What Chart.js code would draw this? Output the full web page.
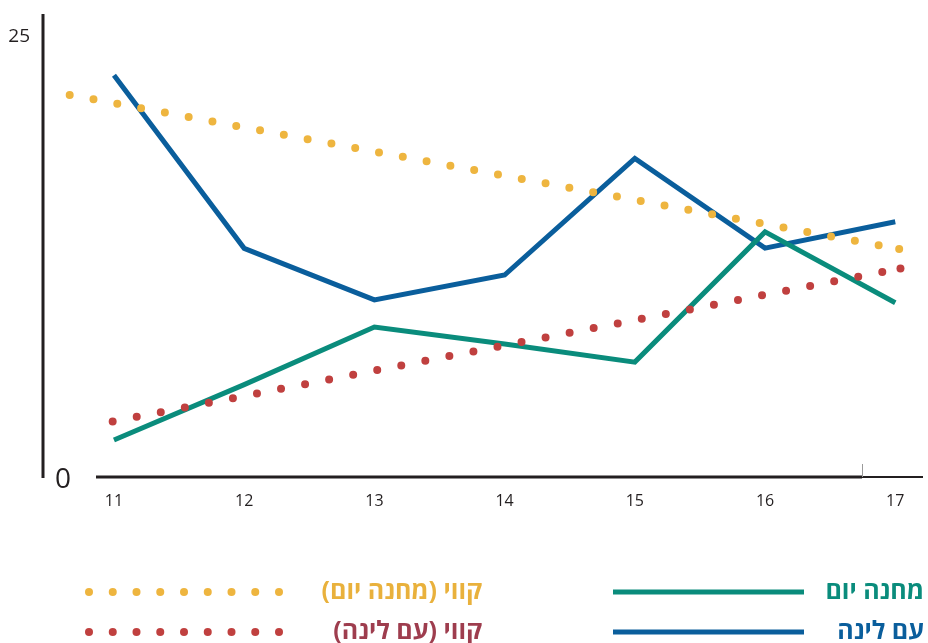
<!DOCTYPE html>
<html><head><meta charset="utf-8">
<script src="https://cdn.jsdelivr.net/npm/chart.js@4/dist/chart.umd.min.js"></script>
<style>html,body{margin:0;padding:0;background:#fff;}</style>
</head><body>
<canvas id="c" width="928" height="643"></canvas>
<script>
// ---- data ----
const categories = [11, 12, 13, 14, 15, 16, 17];
const dayCamp = [2.09, 5.23, 8.49, 7.53, 6.5, 13.87, 9.86];          // מחנה יום
const withLodging = [22.74, 12.94, 10.02, 11.43, 18.03, 12.95, 14.44]; // עם לינה
const trendDayCampX = [10.66, 17.03];                                  // קווי (מחנה יום)
const trendDayCampY = [21.62, 12.9];
const trendLodgingX = [10.99, 17.04];                                  // קווי (עם לינה)
const trendLodgingY = [3.14, 11.8];
const yTickLabels = [25, 0];
const seriesNames = ['מחנה יום', 'עם לינה', 'קווי (מחנה יום)', 'קווי (עם לינה)'];

const TEAL = '#0a8c7c', BLUE = '#0a5e9c', YELLOW = '#eeb53f', RED = '#c0403f';
const legendTextColors = [TEAL, BLUE, '#e9b13c', '#9e3d4e'];
const FONT = '"Open Sans", "Noto Sans", "DejaVu Sans", sans-serif';

const pts = (xs, ys) => xs.map((x, i) => ({x: x, y: ys[i]}));

const decor = {
  id: 'decor',
  afterDraw(chart) {
    const ctx = chart.ctx, ca = chart.chartArea;
    const ys = chart.scales.y;
    ctx.save();
    // y axis line
    ctx.strokeStyle = '#231f20';
    ctx.lineWidth = 3;
    ctx.beginPath(); ctx.moveTo(ca.left, ca.top); ctx.lineTo(ca.left, ca.bottom + 1); ctx.stroke();
    // x axis line
    ctx.beginPath(); ctx.moveTo(ca.left + 53, ca.bottom); ctx.lineTo(ca.right - 58, ca.bottom); ctx.stroke();
    ctx.lineWidth = 2;
    ctx.beginPath(); ctx.moveTo(ca.right - 58, ca.bottom); ctx.lineTo(ca.right + 3, ca.bottom); ctx.stroke();
    ctx.strokeStyle = '#9a9a9a'; ctx.lineWidth = 1;
    ctx.beginPath(); ctx.moveTo(ca.right - 57.5, ca.bottom - 13); ctx.lineTo(ca.right - 57.5, ca.bottom); ctx.stroke();
    // y labels
    ctx.fillStyle = '#231f20';
    ctx.textBaseline = 'middle';
    yTickLabels.forEach(v => {
      const py = ys.getPixelForValue(v);
      if (v === 0) {
        ctx.font = '28px ' + FONT; ctx.textAlign = 'center';
        ctx.fillText(String(v), ca.left + 20, py + 3);
      } else {
        ctx.font = '19px ' + FONT; ctx.textAlign = 'right';
        ctx.fillText(String(v), ca.left - 13, py + 1);
      }
    });
    // legend
    const ds = chart.data.datasets;
    const rows = [592, 632];
    ctx.direction = 'rtl';
    ctx.textAlign = 'right';
    ctx.textBaseline = 'middle';
    ctx.font = 'bold 25px ' + FONT;
    for (let r = 0; r < 2; r++) {
      const y = rows[r];
      // right column: solid series
      const s = ds[r];
      ctx.strokeStyle = s.borderColor; ctx.lineWidth = 5; ctx.lineCap = 'butt';
      ctx.beginPath(); ctx.moveTo(613, y); ctx.lineTo(804, y); ctx.stroke();
      ctx.fillStyle = legendTextColors[r];
      ctx.fillText(s.label, 924, y);
      // left column: trend series
      const t = ds[r + 2];
      ctx.fillStyle = t.borderColor;
      for (let k = 0; k < 9; k++) {
        ctx.beginPath(); ctx.arc(89 + k * 23.75, y, 4, 0, Math.PI * 2); ctx.fill();
      }
      ctx.fillStyle = legendTextColors[r + 2];
      ctx.fillText(t.label, 482, y);
    }
    ctx.restore();
  }
};

const trendDataset = (label, data, color, gap, order) => ({
  label: label, data: data, borderColor: color, borderWidth: 8,
  borderDash: [0, gap], borderCapStyle: 'round', order: order,
  pointRadius: [0, 4], pointBackgroundColor: color, pointBorderWidth: 0
});

new Chart(document.getElementById('c'), {
  type: 'line',
  data: {
    datasets: [
      {label: seriesNames[0], data: pts(categories, dayCamp), borderColor: TEAL, borderWidth: 5, pointRadius: 0, tension: 0, order: 2},
      {label: seriesNames[1], data: pts(categories, withLodging), borderColor: BLUE, borderWidth: 5, pointRadius: 0, tension: 0, order: 3},
      trendDataset(seriesNames[2], pts(trendDayCampX, trendDayCampY), YELLOW, 24.2, 0),
      trendDataset(seriesNames[3], pts(trendLodgingX, trendLodgingY), RED, 24.5, 1)
    ]
  },
  options: {
    responsive: false, animation: false, devicePixelRatio: 1,
    layout: {padding: {left: 43, right: 8, top: 14, bottom: 126}},
    plugins: {legend: {display: false}, tooltip: {enabled: false}},
    scales: {
      x: {
        type: 'linear', min: 10.455, max: 17.19,
        grid: {display: false}, border: {display: false},
        afterBuildTicks: s => { s.ticks = categories.map(v => ({value: v})); },
        afterFit: s => { s.height = 40; },
        ticks: {padding: 7, autoSkip: false, maxRotation: 0, color: '#231f20', font: {family: FONT, size: 16}}
      },
      y: {min: 0, max: 26.2, display: false}
    }
  },
  plugins: [decor]
});
</script>
</body></html>
